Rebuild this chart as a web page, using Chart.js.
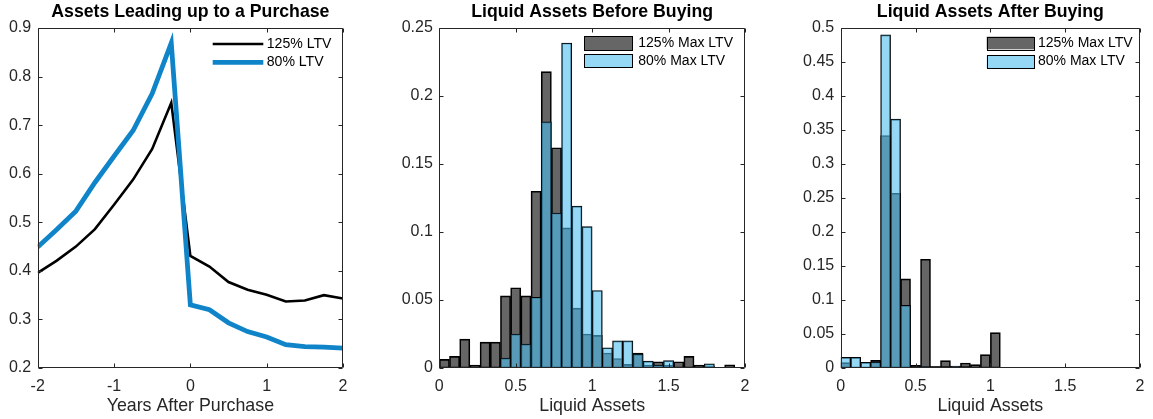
<!DOCTYPE html>
<html><head><meta charset="utf-8">
<script src="https://cdn.jsdelivr.net/npm/chart.js@4.4.1/dist/chart.umd.min.js"></script>
<style>
html,body{margin:0;padding:0;background:#fff;width:1153px;height:419px;overflow:hidden;}
canvas{position:absolute;top:0;}
</style></head><body>
<canvas id="c1" style="left:0px;width:385px;height:419px" width="385" height="419"></canvas>
<canvas id="c2" style="left:385px;width:395px;height:419px" width="395" height="419"></canvas>
<canvas id="c3" style="left:780px;width:373px;height:419px" width="373" height="419"></canvas>
<script>
// ---------- DATA ----------
const years = [-2, -1.75, -1.5, -1.25, -1, -0.75, -0.5, -0.25, 0, 0.25, 0.5, 0.75, 1, 1.25, 1.5, 1.75, 2];
const assets125 = [0.396, 0.421, 0.450, 0.486, 0.536, 0.588, 0.651, 0.746, 0.431, 0.409, 0.377, 0.361, 0.351, 0.337, 0.339, 0.350, 0.343];
const assets80  = [0.449, 0.485, 0.523, 0.582, 0.636, 0.689, 0.765, 0.869, 0.330, 0.320, 0.293, 0.275, 0.264, 0.248, 0.244, 0.243, 0.241];

const binStart = 0, binWidth = 1 / 15, binCount = 30;

const before125 = [0.0063, 0.0085, 0.0212, 0.0022, 0.019, 0.019, 0.053, 0.059, 0.053, 0.130,
                   0.218, 0.162, 0.103, 0.044, 0.025, 0.024, 0.011, 0.007, 0.0027, 0.011,
                   0.0022, 0.0046, 0.002, 0.0046, 0.0085, 0.0022, 0.0015, 0, 0.0024, 0];
const before80  = [0, 0, 0, 0, 0, 0, 0.0073, 0.0249, 0.0176, 0.052,
                   0.181, 0.114, 0.239, 0.119, 0.104, 0.057, 0.0149, 0.020, 0.020, 0.0102,
                   0.0051, 0.0022, 0.0054, 0, 0, 0, 0.003, 0, 0, 0];
const after125  = [0.008, 0, 0, 0.0113, 0.342, 0.257, 0.131, 0.004, 0.160, 0.002,
                   0.0108, 0.002, 0.0074, 0.005, 0.0196, 0.052, 0, 0, 0, 0,
                   0, 0, 0, 0, 0, 0, 0, 0, 0, 0];
const after80   = [0.0157, 0.0157, 0.0083, 0.0088, 0.490, 0.366, 0.092, 0, 0.0025, 0.002,
                   0.002, 0.003, 0.002, 0, 0, 0, 0, 0, 0, 0,
                   0, 0, 0, 0, 0, 0, 0, 0, 0, 0];

const titles = ['Assets Leading up to a Purchase', 'Liquid Assets Before Buying', 'Liquid Assets After Buying'];
const xLabels = ['Years After Purchase', 'Liquid Assets', 'Liquid Assets'];
const lineLegend = ['125% LTV', '80% LTV'];
const histLegend = ['125% Max LTV', '80% Max LTV'];

// ---------- STYLE ----------
const FONT = "'Liberation Sans', Arial, sans-serif";
Chart.defaults.font.family = FONT;
Chart.defaults.animation = false;
const AX = '#262626';
const DARK_FILL = 'rgba(0,0,0,0.6)';
const BLUE_FILL = 'rgba(77,190,238,0.6)';
const LINE_BLUE = '#0f84c9';

const binCenters = before125.map((_, i) => binStart + (i + 0.5) * binWidth);
const toXY = (xs, ys) => ys.map((v, i) => ({x: xs[i], y: v}));
const fmt = v => String(+(+v).toFixed(4));

const matlabBox = {
  id: 'matlabBox',
  afterDraw(chart, args, opts) {
    const {ctx, chartArea: ca, scales: {x, y}} = chart;
    const L = Math.round(ca.left) + 0.5, R = Math.round(ca.right) - 0.5;
    const T = Math.round(ca.top) + 0.5, B = Math.round(ca.bottom) - 0.5;
    ctx.save();
    ctx.strokeStyle = AX; ctx.lineWidth = 1;
    ctx.beginPath();
    ctx.rect(L, T, R - L, B - T);
    const tl = 4;
    x.ticks.forEach(t => {
      const p = Math.round(x.getPixelForValue(t.value)) + 0.5;
      ctx.moveTo(p, B); ctx.lineTo(p, B - tl);
      ctx.moveTo(p, T); ctx.lineTo(p, T + tl);
    });
    y.ticks.forEach(t => {
      const p = Math.round(y.getPixelForValue(t.value)) + 0.5;
      ctx.moveTo(L, p); ctx.lineTo(L + tl, p);
      ctx.moveTo(R, p); ctx.lineTo(R - tl, p);
    });
    ctx.stroke();
    // legend
    const lg = opts.legend;
    if (lg) {
      ctx.font = lg.fontSize + 'px ' + FONT;
      ctx.textBaseline = 'middle';
      ctx.textAlign = 'left';
      lg.items.forEach(it => {
        if (it.kind === 'line') {
          ctx.beginPath();
          ctx.strokeStyle = it.color; ctx.lineWidth = it.width;
          ctx.moveTo(lg.x0, it.y); ctx.lineTo(lg.x1, it.y); ctx.stroke();
        } else {
          ctx.fillStyle = '#fff';
          ctx.fillRect(lg.x0, it.y0, lg.x1 - lg.x0, it.y1 - it.y0);
          ctx.fillStyle = it.color;
          ctx.fillRect(lg.x0, it.y0, lg.x1 - lg.x0, it.y1 - it.y0);
          ctx.strokeStyle = '#000'; ctx.lineWidth = 1;
          ctx.strokeRect(Math.round(lg.x0) + 0.5, Math.round(it.y0) + 0.5,
                         Math.round(lg.x1 - lg.x0), Math.round(it.y1 - it.y0));
        }
        ctx.fillStyle = '#000';
        ctx.fillText(it.text, lg.tx, it.ty);
      });
    }
    ctx.restore();
  }
};

function scalesCfg(xmin, xmax, xstep, ymin, ymax, ystep, yW, xLabel) {
  return {
    x: {
      type: 'linear', min: xmin, max: xmax, offset: false,
      grid: {display: false, drawTicks: false, offset: false},
      border: {display: false},
      ticks: {stepSize: xstep, color: AX, font: {size: 16}, padding: 8.5, maxRotation: 0, autoSkip: false, callback: fmt},
      title: {display: true, text: xLabel, color: AX, font: {size: 17.8}, padding: {top: 0, bottom: 2.5}},
      afterFit: s => { s.height = 51; }
    },
    y: {
      type: 'linear', min: ymin, max: ymax,
      grid: {display: false, drawTicks: false},
      border: {display: false},
      ticks: {stepSize: ystep, color: AX, font: {size: 16}, padding: 6.5, autoSkip: false, callback: fmt},
      afterFit: s => { s.width = yW; }
    }
  };
}

function titleCfg(text) {
  return {display: true, fullSize: false, text, color: '#000', font: {size: 17.7, weight: 'bold'}, padding: {top: 1.5, bottom: 5.3}};
}

// ---------- PANEL 1 ----------
new Chart(document.getElementById('c1'), {
  type: 'line',
  data: {
    datasets: [
      {label: lineLegend[0], data: toXY(years, assets125), borderColor: '#000', borderWidth: 2.6, pointRadius: 0, tension: 0, order: 1},
      {label: lineLegend[1], data: toXY(years, assets80), borderColor: LINE_BLUE, borderWidth: 4.8, pointRadius: 0, tension: 0, order: 0}
    ]
  },
  options: {
    responsive: false, devicePixelRatio: 1,
    layout: {padding: {left: 0, right: 42, top: 0, bottom: 0}},
    plugins: {
      legend: {display: false}, tooltip: {enabled: false},
      title: titleCfg(titles[0]),
      matlabBox: {legend: {fontSize: 14.1, x0: 212.7, x1: 263.3, tx: 266.7, items: [
        {kind: 'line', color: '#000', width: 2.6, y: 44, ty: 44, text: lineLegend[0]},
        {kind: 'line', color: LINE_BLUE, width: 4.8, y: 62.3, ty: 62.3, text: lineLegend[1]}
      ]}}
    },
    scales: scalesCfg(-2, 2, 1, 0.2, 0.9, 0.1, 37.7, xLabels[0])
  },
  plugins: [matlabBox]
});

// ---------- HISTOGRAMS ----------
function histChart(id, d125, d80, ymax, ystep, yW, rightPad, title, xLabel, lg) {
  return new Chart(document.getElementById(id), {
    type: 'bar',
    data: {
      datasets: [
        {label: histLegend[0], data: toXY(binCenters, d125), backgroundColor: DARK_FILL, borderColor: '#000', borderWidth: 1, borderSkipped: false, order: 1},
        {label: histLegend[1], data: toXY(binCenters, d80), backgroundColor: BLUE_FILL, borderColor: '#000', borderWidth: 1, borderSkipped: false, order: 0}
      ]
    },
    options: {
      responsive: false, devicePixelRatio: 1,
      grouped: false,
      datasets: {bar: {grouped: false, categoryPercentage: 1, barPercentage: 1}},
      layout: {padding: {left: 0, right: rightPad, top: 0, bottom: 0}},
      plugins: {
        legend: {display: false}, tooltip: {enabled: false},
        title: titleCfg(title),
        matlabBox: {legend: lg}
      },
      scales: scalesCfg(0, 2, 0.5, 0, ymax, ystep, yW, xLabel)
    },
    plugins: [matlabBox]
  });
}

histChart('c2', before125, before80, 0.25, 0.05, 54.3, 35, titles[1], xLabels[1], {
  fontSize: 14, x0: 199.3, x1: 247.3, tx: 253.3, items: [
    {kind: 'box', color: DARK_FILL, y0: 36.3, y1: 50.3, ty: 43.3, text: histLegend[0]},
    {kind: 'box', color: BLUE_FILL, y0: 54, y1: 67.3, ty: 60.7, text: histLegend[1]}
  ]});

histChart('c3', after125, after80, 0.5, 0.05, 60.7, 7, titles[2], xLabels[2], {
  fontSize: 14, x0: 206.7, x1: 254, tx: 258, items: [
    {kind: 'box', color: DARK_FILL, y0: 36.7, y1: 49.3, ty: 43.3, text: histLegend[0]},
    {kind: 'box', color: BLUE_FILL, y0: 55, y1: 68, ty: 61, text: histLegend[1]}
  ]});
</script>
</body></html>
